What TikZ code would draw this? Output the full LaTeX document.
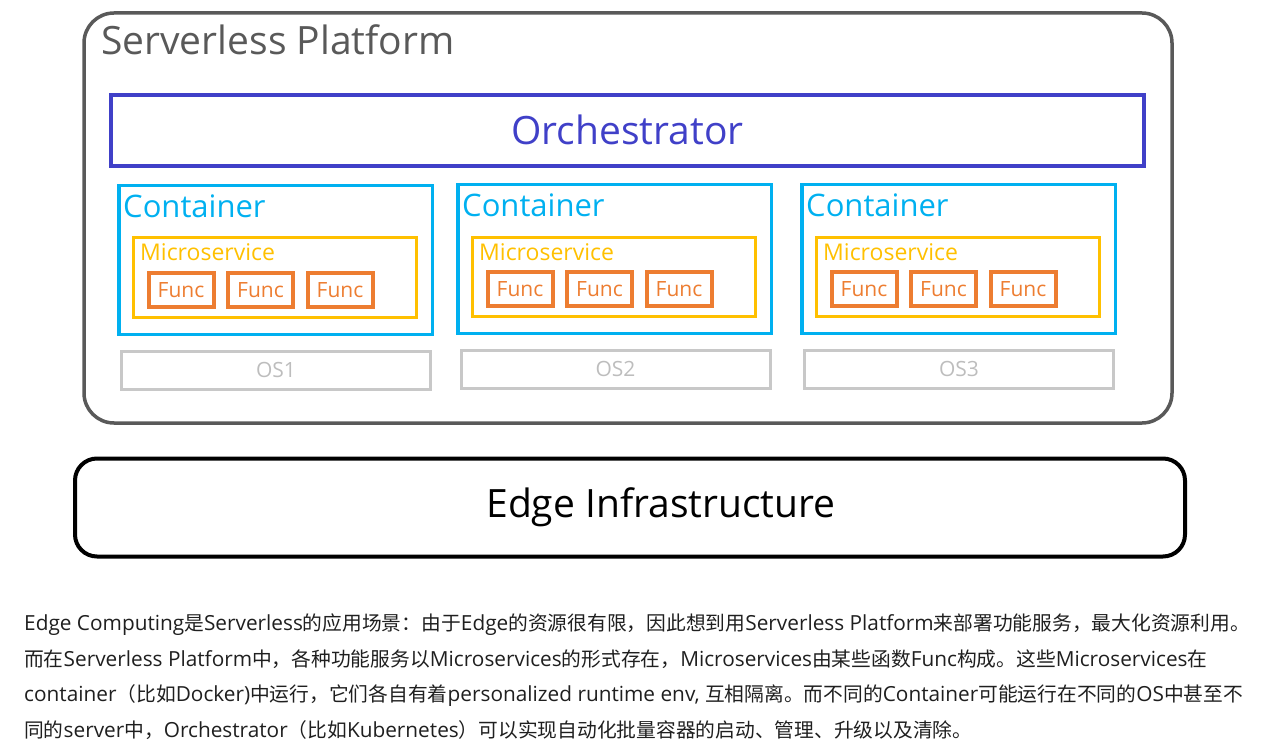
\documentclass[tikz,border=0pt]{standalone}
\usepackage{fontspec}
\setmainfont{Open Sans}
\newfontfamily\cjk{Noto Sans CJK SC}
\newcommand\zh[1]{{\cjk\fontsize{19.75}{24}\selectfont #1}}
\usetikzlibrary{positioning}

\definecolor{platgray}{HTML}{595959}
\definecolor{orchblue}{HTML}{4040C8}
\definecolor{contblue}{HTML}{00B0F0}
\definecolor{microyellow}{HTML}{FFC000}
\definecolor{funcorange}{HTML}{ED7D31}
\definecolor{osgray}{HTML}{C8C8C8}
\definecolor{osgraytext}{HTML}{BDBDBD}
\definecolor{textblack}{HTML}{1F1F1F}

\begin{document}
\begin{tikzpicture}[x=1pt, y=-1pt, node distance=79.5pt]
	\tikzstyle{platform} = [draw=platgray, line width=3.5pt, rounded corners=30pt, minimum width=1088pt, minimum height=410pt, inner sep=0pt]
	\tikzstyle{orch} = [draw=orchblue, text=orchblue, line width=4pt, minimum width=1033pt, minimum height=71pt, inner sep=0pt, font=\fontsize{39}{47}\selectfont]
	\tikzstyle{cont} = [draw=contblue, line width=3.5pt, minimum width=313.5pt, minimum height=148.5pt, inner sep=0pt]
	\tikzstyle{micro} = [draw=microyellow, line width=3pt, minimum width=283pt, minimum height=79pt, inner sep=0pt]
	\tikzstyle{func} = [draw=funcorange, text=funcorange, line width=4pt, minimum width=65pt, minimum height=34pt, inner sep=0pt, font=\fontsize{21}{25}\selectfont]
	\tikzstyle{os} = [draw=osgray, text=osgraytext, line width=3pt, minimum width=309pt, minimum height=38pt, inner sep=0pt, font=\fontsize{21}{25}\selectfont]
	\tikzstyle{edgebox} = [draw=black, line width=4pt, rounded corners=22pt, minimum width=1110pt, minimum height=98pt, inner sep=0pt]
	\tikzstyle{label} = [anchor=base west, inner sep=0pt]
	\tikzstyle{para} = [anchor=base west, inner sep=0pt, text=textblack, font=\fontsize{20.8}{24}\selectfont]
	\useasboundingbox (0,0) rectangle (1269,754);
	\begin{scope}
	  \path
	  node[platform] (plat) at (628,218) {}
	  node[label, text=platgray, font=\fontsize{39}{47}\selectfont] (platlbl) at (101,55) {Serverless Platform}
	  node[orch] (orch) at (627.5,130.5) {\raisebox{2pt}{Orchestrator}}
	  % containers
	  node[cont] (c1) at (275.5,260) {}
	  node[cont] (c2) at (614.5,259) {}
	  node[cont] (c3) at (958.5,259) {}
	  node[label, text=contblue, font=\fontsize{31}{37}\selectfont] (c1lbl) at (123,218) {Container}
	  node[label, text=contblue, font=\fontsize{31}{37}\selectfont] (c2lbl) at (462,217) {Container}
	  node[label, text=contblue, font=\fontsize{31}{37}\selectfont] (c3lbl) at (806,217) {Container}
	  % microservices
	  node[micro] (m1) at (275,277.5) {}
	  node[micro] (m2) at (614,277) {}
	  node[micro] (m3) at (958,277) {}
	  node[label, text=microyellow, font=\fontsize{23}{28}\selectfont] (m1lbl) at (140,261) {Microservice}
	  node[label, text=microyellow, font=\fontsize{23}{28}\selectfont] (m2lbl) at (479,260) {Microservice}
	  node[label, text=microyellow, font=\fontsize{23}{28}\selectfont] (m3lbl) at (823,260) {Microservice}
	  % funcs
	  node[func] (f11) at (181,290) {Func}
	  node[func, right of=f11] (f12) {Func}
	  node[func, right of=f12] (f13) {Func}
	  node[func] (f21) at (520,289) {Func}
	  node[func, right of=f21] (f22) {Func}
	  node[func, right of=f22] (f23) {Func}
	  node[func] (f31) at (864,289) {Func}
	  node[func, right of=f31] (f32) {Func}
	  node[func, right of=f32] (f33) {Func}
	  % os
	  node[os] (os1) at (276,370) {OS1}
	  node[os] (os2) at (615.5,369) {OS2}
	  node[os] (os3) at (959,369) {OS3}
	  % edge
	  node[edgebox] (edge) at (630,507.5) {}
	  node[font=\fontsize{39}{47}\selectfont, inner sep=0pt] (edgelbl) at (661,507) {Edge Infrastructure}
	  % text below
	  node[para] (t1) at (24,630) {Edge Computing\zh{是}Serverless\zh{的应用场景：由于}Edge\zh{的资源很有限，因此想到用}Serverless Platform\zh{来部署功能服务，最大化资源利用。}}
	  node[para] (t2) at (24,666) {\zh{而在}Serverless Platform\zh{中，各种功能服务以}Microservices\zh{的形式存在，}Microservices\zh{由某些函数}Func\zh{构成。这些}Microservices\zh{在}}
	  node[para] (t3) at (24,701.5) {container\zh{（比如}Docker)\zh{中运行，它们各自有着}personalized runtime env, \zh{互相隔离。而不同的}Container\zh{可能运行在不同的}OS\zh{中甚至不}}
	  node[para] (t4) at (24,737.5) {\zh{同的}server\zh{中，}Orchestrator\zh{（比如}Kubernetes\zh{）可以实现自动化批量容器的启动、管理、升级以及清除。}}
	  ;
	\end{scope}
\end{tikzpicture}
\end{document}
